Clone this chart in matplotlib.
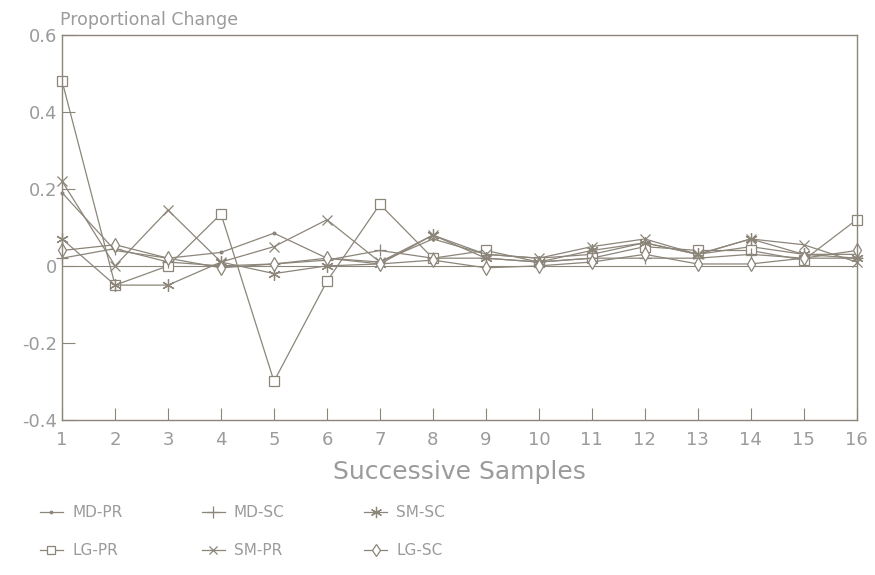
import matplotlib.pyplot as plt
import numpy as np

plt.rcParams['axes.unicode_minus'] = False

samples = np.arange(1, 17)

md_pr = [0.19, 0.04, 0.02, 0.035, 0.085, 0.02, 0.01, 0.07, 0.03, 0.02, 0.03, 0.06, 0.03, 0.05, 0.03, 0.03]
lg_pr = [0.48, -0.05, 0.00, 0.135, -0.30, -0.04, 0.16, 0.02, 0.04, 0.01, 0.02, 0.05, 0.04, 0.04, 0.015, 0.12]
md_sc = [0.02, 0.045, 0.01, 0.00, 0.005, 0.015, 0.04, 0.02, 0.02, 0.01, 0.02, 0.02, 0.02, 0.03, 0.02, 0.02]
sm_pr = [0.22, 0.00, 0.145, 0.01, 0.05, 0.12, 0.01, 0.08, 0.03, 0.02, 0.05, 0.07, 0.03, 0.07, 0.055, 0.01]
sm_sc = [0.07, -0.05, -0.05, 0.01, -0.02, 0.00, 0.005, 0.08, 0.02, 0.01, 0.04, 0.06, 0.03, 0.07, 0.03, 0.02]
lg_sc = [0.04, 0.055, 0.02, -0.005, 0.005, 0.02, 0.005, 0.015, -0.005, 0.00, 0.01, 0.03, 0.005, 0.005, 0.02, 0.04]

y_ticks = [-0.4, -0.2, 0, 0.2, 0.4, 0.6]
y_labels = ['-0.4', '-0.2', '0', '0.2', '0.4', '0.6']

line_col = '#8c857a'
text_col = '#9b9b9b'

fig = plt.figure(figsize=(8.75, 5.75), dpi=100)
ax = fig.add_axes([0.071, 0.27, 0.908, 0.669])

ax.axhline(0, color=line_col, lw=0.8)

series = [
    (md_pr, '.', 'MD-PR', 4),
    (lg_pr, 's', 'LG-PR', 7),
    (md_sc, '+', 'MD-SC', 9),
    (sm_pr, 'x', 'SM-PR', 7),
    (sm_sc, (6, 2, 0), 'SM-SC', 9),
    (lg_sc, 'd', 'LG-SC', 7),
]
for vals, mk, name, ms in series:
    ax.plot(samples, vals, color=line_col, lw=0.9, marker=mk, ms=ms,
            mfc='white' if mk in ('s', 'd') else line_col,
            mec=line_col, mew=0.9, label=name, clip_on=False)

ax.set_xlim(1, 16)
ax.set_ylim(-0.4, 0.6)
ax.set_xticks(samples)
ax.set_yticks(y_ticks)
ax.set_yticklabels(y_labels)
ax.tick_params(direction='in', length=9, colors=line_col, labelcolor=text_col,
               labelsize=13)
ax.tick_params(axis='x', pad=8)
for s in ax.spines.values():
    s.set_color(line_col)
    s.set_linewidth(1.0)

fig.text(0.068, 0.965, 'Proportional Change', color=text_col, fontsize=12.5,
         ha='left', va='center')
ax.set_xlabel('Successive Samples', color=text_col, fontsize=18, labelpad=8)

fig.legend(loc='lower left', bbox_to_anchor=(0.03, 0.005), ncol=3, frameon=False,
           fontsize=11, labelcolor=text_col, handlelength=1.5, handletextpad=0.6,
           columnspacing=5.2, labelspacing=1.5, markerscale=0.9)

fig.savefig('out.png', dpi=100)
